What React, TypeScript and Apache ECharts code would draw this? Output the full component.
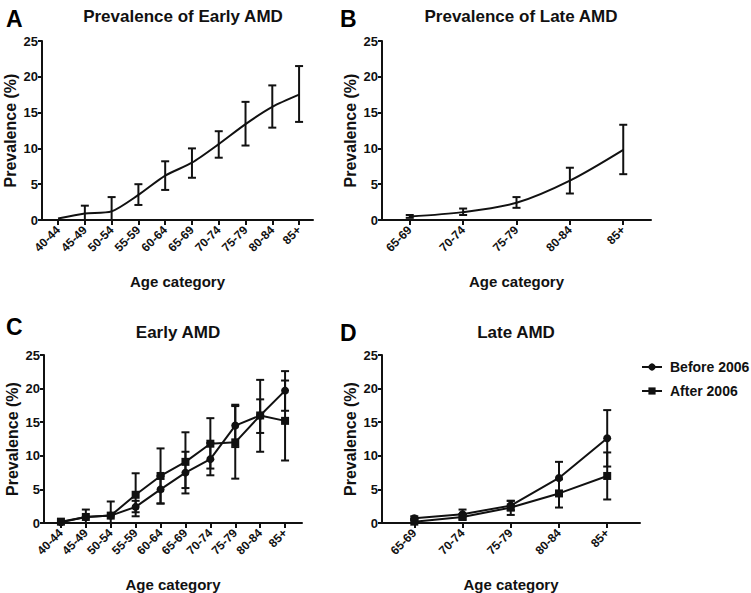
import React, { useEffect, useRef } from "react";
import * as echarts from "echarts";

const FONT = "'Liberation Sans', Arial, sans-serif";
const INK = "#111";

// panel A / C categories
const ageAll = ["40-44", "45-49", "50-54", "55-59", "60-64", "65-69", "70-74", "75-79", "80-84", "85+"];
// panel B / D categories
const ageLate = ["65-69", "70-74", "75-79", "80-84", "85+"];
const yTicks = [0, 5, 10, 15, 20, 25];

// A: prevalence of early AMD (estimate, lower, upper)
const earlyMean = [0.2, 0.9, 1.2, 3.5, 6.2, 8.0, 10.6, 13.4, 15.8, 17.5];
const earlyLow = [null, 0, 0, 2.1, 4.2, 5.9, 8.7, 10.4, 12.9, 13.7];
const earlyHigh = [null, 2.0, 3.2, 5.0, 8.2, 10.0, 12.4, 16.5, 18.8, 21.5];

// B: prevalence of late AMD
const lateMean = [0.5, 1.1, 2.4, 5.5, 9.8];
const lateLow = [0.3, 0.7, 1.7, 3.7, 6.4];
const lateHigh = [0.7, 1.6, 3.2, 7.3, 13.3];

// C: early AMD before / after 2006
const earlyBefore = [0.1, 0.9, 1.1, 2.4, 5.0, 7.5, 9.5, 14.5, 16.0, 19.7];
const earlyBeforeLow = [null, null, null, 1.6, 2.9, 4.4, 7.1, 11.3, 13.4, 16.7];
const earlyBeforeHigh = [null, null, null, 3.3, 7.0, 10.6, 11.9, 17.6, 18.4, 22.6];
const earlyAfter = [0.2, 0.9, 1.1, 4.2, 7.0, 9.1, 11.8, 12.0, 16.0, 15.2];
const earlyAfterLow = [null, 0, 0, 1.0, 2.9, 5.2, 8.1, 6.6, 10.6, 9.3];
const earlyAfterHigh = [null, 2.0, 3.2, 7.4, 11.1, 13.5, 15.6, 17.4, 21.3, 21.2];

// D: late AMD before / after 2006
const lateBefore = [0.7, 1.3, 2.6, 6.7, 12.6];
const lateBeforeLow = [0.4, 0.8, 1.9, 4.3, 8.4];
const lateBeforeHigh = [1.0, 2.0, 3.3, 9.1, 16.8];
const lateAfter = [0.2, 0.9, 2.3, 4.4, 7.0];
const lateAfterLow = [0.0, 0.5, 1.2, 2.3, 3.5];
const lateAfterHigh = [0.5, 1.3, 3.3, 6.5, 10.5];

const seriesNames = ["Before 2006", "After 2006"];

const pts = (vals: number[]) => vals.map((v, i) => [i, v]);
const bars = (lo: (number | null)[], hi: (number | null)[]) =>
  lo
    .map((l, i) => (l == null || hi[i] == null ? null : [i, l, hi[i]]))
    .filter((d) => d !== null) as number[][];

const errorBarItem = (params: any, api: any) => {
  const x = api.value(0);
  const lo = api.coord([x, api.value(1)]);
  const hi = api.coord([x, api.value(2)]);
  const w = 4;
  const style = { stroke: INK, lineWidth: 2 };
  return {
    type: "group",
    children: [
      { type: "line", shape: { x1: lo[0], y1: lo[1], x2: hi[0], y2: hi[1] }, style },
      { type: "line", shape: { x1: hi[0] - w, y1: hi[1], x2: hi[0] + w, y2: hi[1] }, style },
      { type: "line", shape: { x1: lo[0] - w, y1: lo[1], x2: lo[0] + w, y2: lo[1] }, style },
    ],
  };
};

const App = () => {
  const chartRef = useRef<HTMLDivElement>(null);

  useEffect(() => {
    if (!chartRef.current) return;
    const chart = echarts.init(chartRef.current, null, { renderer: "svg" });

    // grid boxes in pixels: [left, top, width, height], x range [min, max]
    const panels = [
      { box: [42, 41, 271, 179], range: [-0.6, 9.52], cats: ageAll },
      { box: [382, 41, 269, 179], range: [-0.52, 4.52], cats: ageLate },
      { box: [44, 355, 258, 172], range: [-0.68, 9.68], cats: ageAll },
      { box: [382, 355, 258, 172], range: [-0.67, 4.68], cats: ageLate },
    ];

    const grid = panels.map((p) => ({
      left: p.box[0],
      top: p.box[1],
      width: p.box[2],
      height: p.box[3],
      containLabel: false,
    }));

    const xAxis = panels.map((p, i) => ({
      type: "value",
      gridIndex: i,
      min: p.range[0],
      max: p.range[1],
      name: "Age category",
      nameLocation: "middle",
      nameGap: 54,
      nameTextStyle: { fontFamily: FONT, fontWeight: "bold", fontSize: 15, color: INK },
      splitLine: { show: false },
      axisLine: { onZero: false, lineStyle: { color: INK, width: 2 } },
      axisTick: {
        length: 5,
        lineStyle: { color: INK, width: 2 },
        customValues: p.cats.map((_, k) => k),
      },
      axisLabel: {
        customValues: p.cats.map((_, k) => k),
        formatter: (v: number) => p.cats[Math.round(v)] ?? "",
        rotate: 45,
        margin: 8,
        fontFamily: FONT,
        fontWeight: "bold",
        fontSize: 12,
        color: INK,
      },
    }));

    const yAxis = panels.map((_, i) => ({
      type: "value",
      gridIndex: i,
      min: 0,
      max: 25,
      interval: 5,
      name: "Prevalence (%)",
      nameLocation: "middle",
      nameGap: 24,
      nameTextStyle: { fontFamily: FONT, fontWeight: "bold", fontSize: 16, color: INK },
      splitLine: { show: false },
      axisLine: { show: true, onZero: false, lineStyle: { color: INK, width: 2 } },
      axisTick: { show: true, length: 4, lineStyle: { color: INK, width: 2 } },
      axisLabel: {
        margin: 4,
        fontFamily: FONT,
        fontWeight: "bold",
        fontSize: 13,
        color: INK,
        formatter: (v: number) => (yTicks.includes(v) ? String(v) : ""),
      },
    }));

    const lineSeries = (
      name: string | undefined,
      idx: number,
      data: number[],
      symbol: string,
      smooth: number | boolean
    ) => ({
      type: "line",
      name,
      xAxisIndex: idx,
      yAxisIndex: idx,
      data: pts(data),
      symbol,
      symbolSize: symbol === "none" ? 0 : 8,
      showSymbol: symbol !== "none",
      smooth,
      lineStyle: { color: INK, width: 2 },
      itemStyle: { color: INK },
      z: 3,
    });

    const errSeries = (idx: number, lo: (number | null)[], hi: (number | null)[]) => ({
      type: "custom",
      xAxisIndex: idx,
      yAxisIndex: idx,
      data: bars(lo, hi),
      encode: { x: 0, y: [1, 2] },
      renderItem: errorBarItem,
      z: 2,
    });

    const titleStyle = { fontFamily: FONT, fontWeight: "bold", fontSize: 17, color: INK };
    const letterStyle = { fontFamily: FONT, fontWeight: "bold", fontSize: 23, color: "#000" };

    chart.setOption({
      animation: false,
      backgroundColor: "#fff",
      title: [
        { text: "Prevalence of Early AMD", left: 178, top: 3, textAlign: "center", textStyle: titleStyle },
        { text: "Prevalence of Late AMD", left: 516, top: 3, textAlign: "center", textStyle: titleStyle },
        { text: "Early AMD", left: 173, top: 319, textAlign: "center", textStyle: titleStyle },
        { text: "Late AMD", left: 511, top: 319, textAlign: "center", textStyle: titleStyle },
        { text: "A", left: 1, top: 2, textStyle: letterStyle },
        { text: "B", left: 335, top: 2, textStyle: letterStyle },
        { text: "C", left: 1, top: 310, textStyle: letterStyle },
        { text: "D", left: 335, top: 316, textStyle: letterStyle },
      ],
      legend: {
        left: 641,
        top: 360,
        padding: 0,
        orient: "vertical",
        itemWidth: 20,
        itemHeight: 9,
        itemGap: 10,
        data: seriesNames,
        textStyle: {
          fontFamily: FONT,
          fontWeight: "bold",
          fontSize: 14,
          color: INK,
          padding: [0, 0, 0, 3],
        },
      },
      grid,
      xAxis,
      yAxis,
      series: [
        errSeries(0, earlyLow, earlyHigh),
        lineSeries(undefined, 0, earlyMean, "none", 0.25),
        errSeries(1, lateLow, lateHigh),
        lineSeries(undefined, 1, lateMean, "none", 0.3),
        errSeries(2, earlyBeforeLow, earlyBeforeHigh),
        errSeries(2, earlyAfterLow, earlyAfterHigh),
        lineSeries(seriesNames[0], 2, earlyBefore, "circle", false),
        lineSeries(seriesNames[1], 2, earlyAfter, "rect", false),
        errSeries(3, lateBeforeLow, lateBeforeHigh),
        errSeries(3, lateAfterLow, lateAfterHigh),
        lineSeries(seriesNames[0], 3, lateBefore, "circle", false),
        lineSeries(seriesNames[1], 3, lateAfter, "rect", false),
      ],
    });

    return () => {
      chart.dispose();
    };
  }, []);

  return (
    <div
      ref={chartRef}
      style={{ position: "fixed", left: 0, top: 0, width: 751, height: 593, background: "#fff" }}
    />
  );
};

export default App;
